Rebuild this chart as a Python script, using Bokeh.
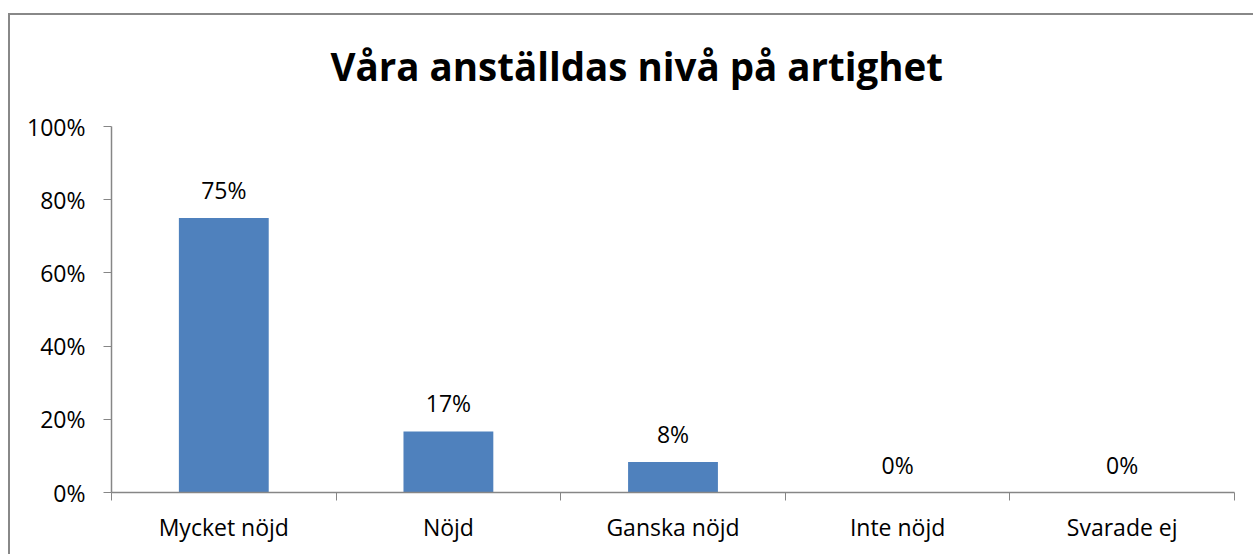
from bokeh.plotting import figure
from bokeh.models import ColumnDataSource, FixedTicker, Range1d, NumeralTickFormatter
from bokeh.core.properties import value
from bokeh.embed import file_html
from bokeh.resources import INLINE

categories = ["Mycket nöjd", "Nöjd", "Ganska nöjd", "Inte nöjd", "Svarade ej"]
shares = [0.75, 0.167, 0.083, 0.0, 0.0]
title_text = "Våra anställdas nivå på artighet"
y_ticks = [0, 0.2, 0.4, 0.6, 0.8, 1.0]

FONT = "Open Sans"
GRAY = "#868686"
BLUE = "#4F81BD"

xs = list(range(1, len(categories) + 1))
labels = [f"{round(v * 100):.0f}%" for v in shares]
src = ColumnDataSource(dict(x=xs, top=shares, label=labels))

p = figure(width=1253, height=554, output_backend="svg", toolbar_location=None,
           x_range=Range1d(0.5, len(categories) + 0.5), y_range=Range1d(0, 1),
           min_border_left=111, min_border_right=19, min_border_top=126, min_border_bottom=62)
p.border_fill_color = None
p.background_fill_color = "white"
p.outline_line_color = None
p.grid.grid_line_color = None
p.styles = {
    "background-color": "white",
    "background-image": "linear-gradient(#888888,#888888), linear-gradient(#888888,#888888)",
    "background-size": "2px 100%, 100% 2px",
    "background-position": "8px 13px, 8px 13px",
    "background-repeat": "no-repeat",
}

p.title.text = title_text
p.title.align = "left"
p.title.offset = 219
p.title.text_font = FONT
p.title.text_font_size = "38.5px"
p.title.text_font_style = "bold"
p.title.text_color = "black"
p.title.standoff = 70

p.vbar(x="x", top="top", width=0.4, bottom=0, source=src, fill_color=BLUE, line_color=None)
p.text(x="x", y="top", text="label", source=src, text_align="center", text_baseline="alphabetic",
       y_offset=-28, text_font=value(FONT), text_font_size="23px", text_color="black")

# x axis
xa = p.xaxis[0]
xa.ticker = FixedTicker(ticks=xs, minor_ticks=[x - 0.5 for x in xs] + [xs[-1] + 0.5])
xa.major_label_overrides = {x: c for x, c in zip(xs, categories)}
xa.major_tick_line_color = None
xa.major_tick_in = 0
xa.major_tick_out = 0
xa.minor_tick_in = 0
xa.minor_tick_out = 8
xa.minor_tick_line_color = GRAY
xa.axis_line_color = GRAY
xa.axis_line_width = 1.5
xa.major_label_standoff = 10
xa.major_label_text_font = FONT
xa.major_label_text_font_size = "23px"
xa.major_label_text_color = "black"

# y axis
ya = p.yaxis[0]
ya.ticker = FixedTicker(ticks=y_ticks)
ya.formatter = NumeralTickFormatter(format="0%")
ya.major_tick_in = 0
ya.major_tick_out = 8
ya.minor_tick_line_color = None
ya.major_tick_line_color = GRAY
ya.axis_line_color = GRAY
ya.axis_line_width = 1.5
ya.major_label_standoff = 18
ya.major_label_text_font = FONT
ya.major_label_text_font_size = "23px"
ya.major_label_text_color = "black"

open("out.html", "w").write(file_html(p, INLINE))
